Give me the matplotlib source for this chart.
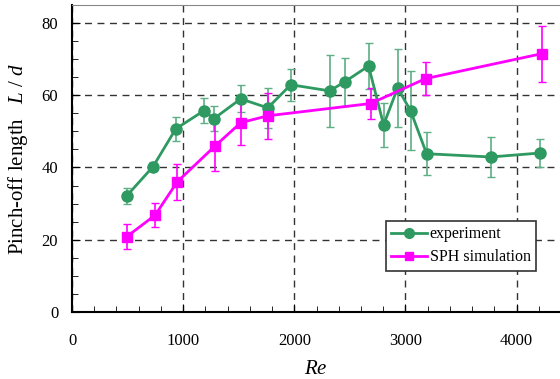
import matplotlib
matplotlib.use("Agg")
import matplotlib.pyplot as plt
from matplotlib.ticker import MultipleLocator
from matplotlib.lines import Line2D

plt.rcParams['font.family'] = ['Liberation Serif', 'DejaVu Serif']
plt.rcParams['mathtext.fontset'] = 'custom'
plt.rcParams['mathtext.it'] = 'Liberation Serif:italic'
plt.rcParams['mathtext.rm'] = 'Liberation Serif'

exp_re = [491, 728, 934, 1186, 1276, 1518, 1761, 1968, 2318, 2453, 2668, 2803, 2929, 3046, 3190, 3765, 4214]
exp_L = [32.1, 40.2, 50.7, 55.7, 53.5, 59.0, 56.5, 62.9, 61.2, 63.7, 68.1, 51.8, 62.0, 55.7, 43.8, 42.9, 44.0]
exp_err = [2.3, 1.2, 3.3, 3.4, 3.4, 3.7, 5.6, 4.4, 9.9, 6.6, 6.4, 6.0, 10.9, 11.0, 6.0, 5.6, 4.0]

sph_re = [491, 748, 946, 1285, 1518, 1761, 2686, 3181, 4226]
sph_L = [20.8, 26.8, 36.0, 45.9, 52.4, 54.3, 57.7, 64.6, 71.5]
sph_err = [3.5, 3.4, 4.9, 6.8, 6.2, 6.3, 4.2, 4.5, 7.8]

fig = plt.figure(figsize=(5.6, 3.79), dpi=100)
ax = fig.add_axes([0.1286, 0.177, 0.8714, 0.81])

green = '#2e9960'
magenta = '#ff00ff'
ax.errorbar(exp_re, exp_L, yerr=exp_err, color=green, marker='o', ms=8, lw=2,
            capsize=3, elinewidth=1.2, ecolor='#5fae85', zorder=3)
ax.errorbar(sph_re, sph_L, yerr=sph_err, color=magenta, marker='s', ms=6.5, lw=2,
            capsize=3, elinewidth=1.2, zorder=3)

ax.set_xlim(0, 4390)
ax.set_ylim(0, 85)
ax.xaxis.set_major_locator(MultipleLocator(1000))
ax.xaxis.set_minor_locator(MultipleLocator(200))
ax.yaxis.set_major_locator(MultipleLocator(20))
ax.yaxis.set_minor_locator(MultipleLocator(5))
ax.tick_params(which='both', direction='in', top=False, right=False, labelsize=12)
ax.tick_params(which='major', length=6)
ax.tick_params(which='minor', length=4)
ax.tick_params(axis='x', pad=15)
ax.tick_params(axis='y', pad=10)
ax.grid(True, which='major', ls=(0, (5, 4)), color='#333333', lw=1)
ax.set_axisbelow(True)
ax.spines['right'].set_visible(False)
ax.spines['top'].set_color('#888888')
ax.spines['left'].set_linewidth(1.5)
ax.spines['bottom'].set_linewidth(1.5)

ax.set_xlabel('$Re$', fontsize=15, labelpad=8)
ax.set_ylabel('Pinch-off length   $L$ / $d$', fontsize=15, labelpad=8)

handles = [Line2D([], [], color=green, marker='o', ms=7, lw=2),
           Line2D([], [], color=magenta, marker='s', ms=6, lw=2)]
leg = ax.legend(handles, ['experiment', 'SPH simulation'], loc='lower left',
                bbox_to_anchor=(0.643, 0.133), fontsize=11.5,
                frameon=True, fancybox=False, edgecolor='#333333', framealpha=1,
                handlelength=2.2, borderpad=0.35, labelspacing=0.45, handletextpad=0.2,
                borderaxespad=0)
leg.get_frame().set_linewidth(1.2)

fig.savefig('out.png', dpi=100)
